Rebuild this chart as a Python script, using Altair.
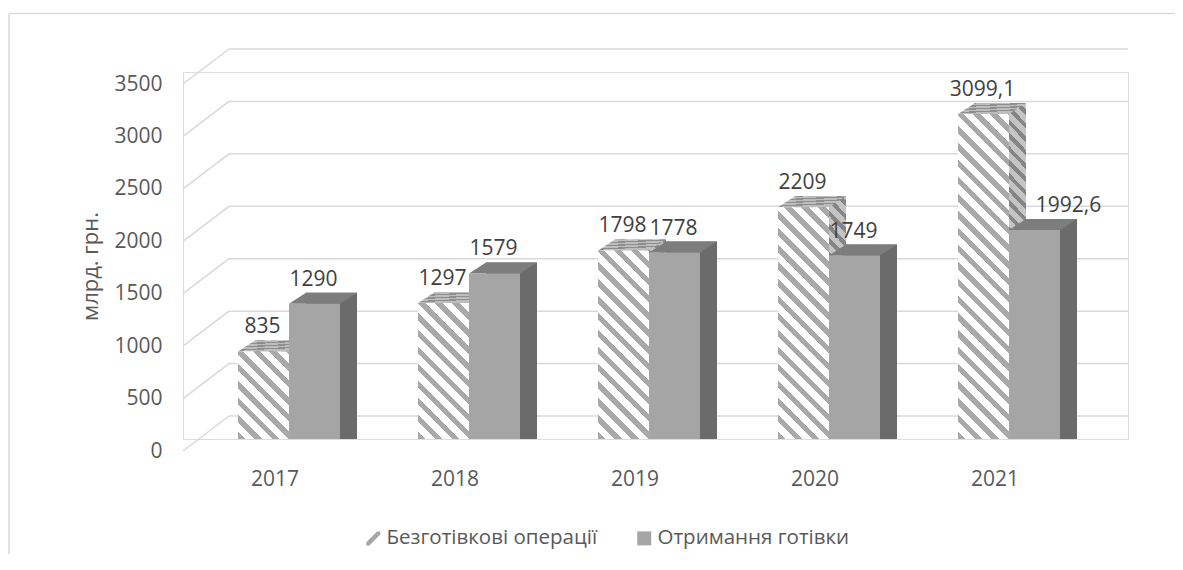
import math
import altair as alt
import pandas as pd

# ---------------- data ----------------
years = ["2017", "2018", "2019", "2020", "2021"]
series = ["Безготівкові операції", "Отримання готівки"]
cashless = [835, 1297, 1798, 2209, 3099.1]
cash = [1290, 1579, 1778, 1749, 1992.6]
y_ticks = [0, 500, 1000, 1500, 2000, 2500, 3000, 3500]
y_title = "млрд. грн."


def fmt(v):
    return f"{v:g}".replace(".", ",")


rows = []
for i, yr in enumerate(years):
    rows.append({"year": yr, "series": series[0], "value": cashless[i], "label": fmt(cashless[i])})
    rows.append({"year": yr, "series": series[1], "value": cash[i], "label": fmt(cash[i])})
df = pd.DataFrame(rows)
grid_df = pd.DataFrame({"v": y_ticks})
one = pd.DataFrame({"a": [0]})

# ---------------- style / layout ----------------
W, H = 945, 367
Y_MAX = 3500
BAR_W = 51
HALF = BAR_W / 2
DX, DY = 17, 11
FONT = "Open Sans"
TEXT = "#595959"
GRID = "#d9d9d9"
FS = 21

x_scale = alt.Scale(domain=years, range=[16, 916], paddingInner=0, paddingOuter=0)
x_axis = alt.Axis(domain=False, ticks=False, grid=False, labelPadding=29, labelOffset=-14,
                  labelFontSize=FS, labelFont=FONT, labelColor=TEXT, labelAngle=0, title=None)
y_scale = alt.Scale(domain=[0, Y_MAX], nice=False, zero=True)
y_axis = alt.Axis(values=y_ticks, format="d", grid=False, domain=False, ticks=False,
                  labelPadding=21, labelOffset=12, labelFontSize=FS, labelFont=FONT,
                  labelColor=TEXT, title=y_title, titleFontSize=22, titleFont=FONT,
                  titleFontWeight="normal", titleColor=TEXT, titleX=-93, titleY=194,
                  titleAngle=270, titleAlign="center", titleBaseline="middle")


def xe():
    return alt.X("year:N", sort=years, scale=x_scale, axis=x_axis)


def ye(field="value"):
    return alt.Y(f"{field}:Q", scale=y_scale, axis=y_axis, stack=None, title=y_title)


def hatch(w, h, bg, fg, period=17.0, frac=0.42):
    L = w + h
    d = w * w + h * h
    x2 = w * L / d
    y2 = 1 - h * L / d
    stops = []
    i = 0
    while True:
        a = i * period / L
        if a >= 1:
            break
        b = min((i + frac) * period / L, 1.0)
        c = min((i + 1) * period / L, 1.0)
        stops += [alt.GradientStop(offset=round(a, 5), color=fg),
                  alt.GradientStop(offset=round(b, 5), color=fg),
                  alt.GradientStop(offset=round(b, 5), color=bg),
                  alt.GradientStop(offset=round(c, 5), color=bg)]
        i += 1
    return alt.LinearGradient(gradient="linear", stops=stops, x1=0, y1=1, x2=x2, y2=y2)


def vstripes(n, bg, fg, frac=0.45):
    stops = []
    for i in range(n):
        a, b, c = i / n, (i + frac) / n, (i + 1) / n
        stops += [alt.GradientStop(offset=round(a, 5), color=fg),
                  alt.GradientStop(offset=round(b, 5), color=fg),
                  alt.GradientStop(offset=round(b, 5), color=bg),
                  alt.GradientStop(offset=round(c, 5), color=bg)]
    return alt.LinearGradient(gradient="linear", stops=stops, x1=0, y1=0, x2=0.3, y2=1)


TOP_PATH = f"M {-HALF} 0 L {HALF} 0 L {HALF+DX} {-DY} L {-HALF+DX} {-DY} Z"
BOT_PATH = f"M {HALF} {-DY} L {HALF+DX} {-DY} L {HALF} 0 Z"
SLASH = "M -1 0.55 L 0.55 -1 L 1 -1 L 1 -0.55 L -0.55 1 L -1 1 Z"

hat = df[df.series == series[0]]
gry = df[df.series == series[1]]
SHIFT = {series[0]: -HALF, series[1]: HALF}

layers = []

# frame of the chart
layers.append(alt.Chart(one).mark_rule(color=GRID, strokeWidth=1.5).encode(
    x=alt.value(-174), y=alt.value(-58.5), y2=alt.value(500)))
layers.append(alt.Chart(one).mark_rule(color=GRID, strokeWidth=1.5).encode(
    x=alt.value(-174), x2=alt.value(1000), y=alt.value(-58.5)))

# 3D grid: back wall lines + slanted side lines
layers.append(alt.Chart(grid_df).mark_rule(color=GRID, strokeWidth=1.5, yOffset=-23).encode(
    y=ye("v"), x=alt.value(46), x2=alt.value(945)))
layers.append(alt.Chart(grid_df).mark_rule(color=GRID, strokeWidth=1.5, yOffset=12, y2Offset=-23).encode(
    y=ye("v"), y2=alt.Y2("v"), x=alt.value(0), x2=alt.value(46)))


def faces(data, sname, side_fill_fn, top_fill, front_fill_fn, bottom=True):
    s = SHIFT[sname]
    out = []
    for _, r in data.iterrows():
        h = r["value"] / Y_MAX * H
        sub = data[data.year == r["year"]]
        out.append(alt.Chart(sub).mark_bar(width=BAR_W, xOffset=s + DX, yOffset=-DY, y2Offset=-DY,
                                           fill=side_fill_fn(h)).encode(x=xe(), y=ye()))
    out.append(alt.Chart(data).mark_point(shape=TOP_PATH, size=4, filled=True, opacity=1, strokeWidth=0,
                                          xOffset=s, fill=top_fill).encode(x=xe(), y=ye()))
    if bottom:
        out.append(alt.Chart(data).mark_point(shape=BOT_PATH, size=4, filled=True, opacity=1,
                                              strokeWidth=0, xOffset=s,
                                              fill=side_fill_fn(0)).encode(x=xe(), y=alt.datum(0)))
    for _, r in data.iterrows():
        h = r["value"] / Y_MAX * H
        sub = data[data.year == r["year"]]
        out.append(alt.Chart(sub).mark_bar(width=BAR_W, xOffset=s,
                                           fill=front_fill_fn(h)).encode(x=xe(), y=ye()))
    return out


layers += faces(hat, series[0],
                lambda h: hatch(BAR_W, max(h, 1), "#c4c4c4", "#858585", period=13),
                vstripes(4, "#bdbdbd", "#8e8e8e"),
                lambda h: hatch(BAR_W, h, "#ffffff", "#a9a9a9"), bottom=False)
layers += faces(gry, series[1], lambda h: "#6b6b6b", "#7d7d7d", lambda h: "#a5a5a5")

# data labels
for sname, d in [(series[0], hat), (series[1], gry)]:
    s = SHIFT[sname]
    normal = d[~((d.series == series[1]) & (d.year == "2021"))]
    shifted = d[(d.series == series[1]) & (d.year == "2021")]
    layers.append(alt.Chart(normal).mark_text(dy=-24, dx=s - 1, fontSize=FS, font=FONT, color="#404040").encode(
        x=xe(), y=ye(), text="label:N"))
    if len(shifted):
        layers.append(alt.Chart(shifted).mark_text(dy=-24, dx=s + 34, fontSize=FS, font=FONT,
                                                   color="#404040").encode(x=xe(), y=ye(), text="label:N"))

# legend (from an invisible layer)
leg = alt.Legend(orient="none", legendX=180, legendY=456, direction="horizontal", title=None,
                 labelFont=FONT, labelFontSize=20.5, labelColor=TEXT, labelLimit=0, symbolSize=196,
                 symbolStrokeWidth=0, symbolOpacity=1, labelOffset=3, columnPadding=36, padding=0)
layers.append(alt.Chart(df).mark_point(filled=True, opacity=0, size=196).encode(
    x=xe(), y=ye(),
    color=alt.Color("series:N", sort=series,
                    scale=alt.Scale(domain=series, range=["#a6a6a6", "#a6a6a6"]), legend=leg, title=None),
    shape=alt.Shape("series:N", sort=series,
                    scale=alt.Scale(domain=series, range=[SLASH, "square"]), legend=leg, title=None)))

chart = alt.layer(*layers).properties(
    width=W, height=H,
    autosize=alt.AutoSizeParams(type="none"),
    padding={"left": 175, "top": 64, "right": 47, "bottom": 115},
).configure_view(stroke=None).configure(background="white")

chart.save("out.html", embed_options={"renderer": "svg", "actions": False})
